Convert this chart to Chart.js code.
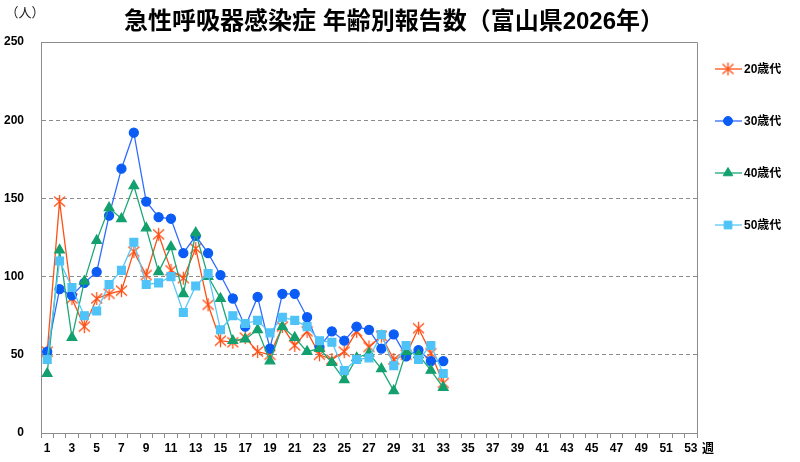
<!DOCTYPE html>
<html>
<head>
<meta charset="utf-8">
<script src="https://cdn.jsdelivr.net/npm/chart.js@4"></script>
<style>
  html, body { margin: 0; padding: 0; background: #fff; }
  #wrap { width: 800px; height: 462px; position: relative; }
</style>
</head>
<body>
<div id="wrap"><canvas id="myChart"></canvas></div>
<script>
const weeks = Array.from({ length: 53 }, (_, i) => String(i + 1));
const seriesNames = ['20歳代', '30歳代', '40歳代', '50歳代'];
const age20 = [52,148,86,68,86,89,91,116,101,127,104,99,118,82,59,58,61,52,50,68,56,65,50,47,52,65,55,62,47,50,67,51,32];
const age30 = [52,92,88,96,103,139,169,192,148,138,137,115,126,115,101,86,68,87,54,89,89,74,55,65,59,68,66,54,63,49,53,46,46];
const age40 = [38,117,61,97,123,144,137,158,131,103,119,89,128,100,86,59,60,66,46,68,61,52,54,45,34,48,51,41,27,52,50,40,29];
const age50 = [47,110,93,75,78,95,104,122,95,96,100,77,94,102,66,75,70,72,64,74,72,68,59,58,40,47,48,63,43,56,47,56,38];

const FONT = '"Liberation Sans", "Noto Sans CJK JP", sans-serif';

// asterisk marker like the spreadsheet one
function makeAsterisk(color) {
    const c = document.createElement('canvas');
    c.width = 15; c.height = 15;
    const g = c.getContext('2d');
    g.strokeStyle = color;
    g.lineWidth = 1.3;
    g.beginPath();
    g.moveTo(7.5, 1); g.lineTo(7.5, 14);
    g.moveTo(2, 2.5); g.lineTo(13, 12.5);
    g.moveTo(13, 2.5); g.lineTo(2, 12.5);
    g.stroke();
    return c;
}
const starImg = makeAsterisk('#ff4f14');

const chartBox = {
    id: 'chartBox',
    afterDraw(chart) {
        const { ctx, chartArea: a } = chart;
        ctx.save();
        // top and right border
        ctx.strokeStyle = '#8c8c8c';
        ctx.lineWidth = 1;
        ctx.setLineDash([]);
        ctx.beginPath();
        ctx.moveTo(a.left, a.top + 0.5);
        ctx.lineTo(a.right + 0.5, a.top + 0.5);
        ctx.lineTo(a.right + 0.5, a.bottom);
        ctx.stroke();

        // title and units
        ctx.fillStyle = '#000';
        ctx.textBaseline = 'middle';
        ctx.textAlign = 'center';
        ctx.font = 'bold 24px ' + FONT;
        ctx.fillText('急性呼吸器感染症 年齢別報告数（富山県2026年）', 394, 22);
        ctx.font = '13px ' + FONT;
        ctx.fillStyle = '#222';
        ctx.fillText('（人）', 25, 13);
        ctx.fillStyle = '#000';
        ctx.font = 'bold 12px ' + FONT;
        ctx.textAlign = 'left';
        ctx.fillText('週', 702, 450);

        // legend
        const ys = [69, 121, 173, 225];
        chart.data.datasets.forEach((ds, i) => {
            const y = ys[i];
            ctx.strokeStyle = ds.borderColor;
            ctx.lineWidth = 1.3;
            ctx.beginPath();
            ctx.moveTo(715, y);
            ctx.lineTo(742, y);
            ctx.stroke();
            ctx.fillStyle = ds.pointBackgroundColor;
            ctx.strokeStyle = ds.pointBorderColor;
            ctx.lineWidth = 1;
            Chart.helpers.drawPoint(ctx, {
                pointStyle: ds.pointStyle,
                radius: ds.pointRadius,
                rotation: 0,
                borderWidth: 1
            }, 728, y);
            ctx.fillStyle = '#000';
            ctx.font = 'bold 12px ' + FONT;
            ctx.textAlign = 'left';
            ctx.fillText(ds.label, 744, y + 1);
        });
        ctx.restore();
    }
};

const ctx = document.getElementById('myChart').getContext('2d');

new Chart(ctx, {
    type: 'line',
    data: {
        labels: weeks,
        datasets: [
            {
                label: seriesNames[0],
                data: age20,
                order: 4,
                borderColor: '#ff4f14',
                borderWidth: 1.3,
                pointStyle: starImg,
                pointRadius: 6,
                pointBackgroundColor: '#ff4f14',
                pointBorderColor: '#ff4f14'
            },
            {
                label: seriesNames[1],
                data: age30,
                order: 3,
                borderColor: '#2f6bff',
                borderWidth: 1.3,
                pointStyle: 'circle',
                pointRadius: 4.5,
                pointBackgroundColor: '#0a5cf5',
                pointBorderColor: '#0a5cf5'
            },
            {
                label: seriesNames[2],
                data: age40,
                order: 2,
                borderColor: '#1aa876',
                borderWidth: 1.3,
                pointStyle: 'triangle',
                pointRadius: 5.5,
                pointBackgroundColor: '#13a06e',
                pointBorderColor: '#13a06e'
            },
            {
                label: seriesNames[3],
                data: age50,
                order: 1,
                borderColor: '#58c8f8',
                borderWidth: 1.3,
                pointStyle: 'rect',
                pointRadius: 5.5,
                pointBackgroundColor: '#4fc3f7',
                pointBorderColor: '#4fc3f7'
            }
        ]
    },
    options: {
        responsive: true,
        maintainAspectRatio: false,
        animation: false,
        layout: { padding: { top: 42, right: 103, left: 0, bottom: 0 } },
        plugins: {
            legend: { display: false },
            title: { display: false },
            tooltip: { enabled: false }
        },
        scales: {
            x: {
                offset: true,
                grid: { offset: true, drawOnChartArea: false, drawTicks: true, tickLength: 5, color: '#8c8c8c' },
                border: { color: '#8c8c8c', width: 1 },
                ticks: {
                    autoSkip: false,
                    maxRotation: 0,
                    padding: 3,
                    color: '#000',
                    font: { family: FONT, size: 12, weight: 'bold' },
                    callback: function (val, idx) { return idx % 2 === 0 ? this.getLabelForValue(val) : ''; }
                },
                afterFit: s => { s.height = 29; }
            },
            y: {
                min: 0,
                max: 250,
                ticks: {
                    stepSize: 50,
                    padding: 17,
                    color: '#000',
                    font: { family: FONT, size: 12, weight: 'bold' }
                },
                grid: {
                    drawTicks: false,
                    color: c => (c.tick.value === 0 || c.tick.value === 250) ? 'rgba(0,0,0,0)' : '#8c8c8c',
                    lineWidth: 1
                },
                border: { color: '#8c8c8c', width: 1, dash: [4, 3] },
                afterFit: s => { s.width = 41; }
            }
        }
    },
    plugins: [chartBox]
});
</script>
</body>
</html>
